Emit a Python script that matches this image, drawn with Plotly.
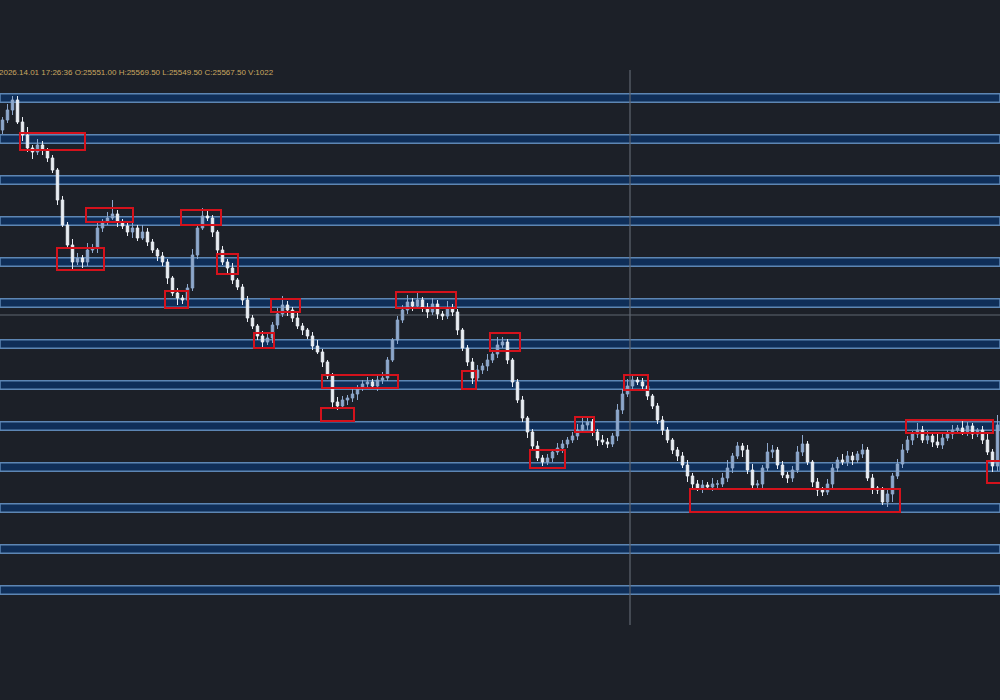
import plotly.graph_objects as go

# ---------------- data ----------------
header_text = "2026.14.01 17:26:36 O:25551.00 H:25569.50 L:25549.50 C:25567.50 V:1022"

first_open = 25870
closes = [
    25880, 25890, 25900, 25878, 25865, 25852, 25848, 25855, 25850, 25842,
    25830, 25800, 25775, 25755, 25738, 25742, 25738, 25750, 25752, 25772,
    25778, 25782, 25786, 25778, 25774, 25768, 25772, 25762, 25768, 25758,
    25750, 25744, 25738, 25722, 25707, 25702, 25700, 25712, 25745, 25772,
    25784, 25782, 25768, 25750, 25738, 25732, 25720, 25713, 25700, 25682,
    25674, 25664, 25658, 25662, 25675, 25686, 25695, 25690, 25682, 25674,
    25670, 25664, 25654, 25648, 25638, 25624, 25598, 25594, 25600, 25602,
    25606, 25612, 25616, 25618, 25614, 25620, 25622, 25640, 25660, 25680,
    25690, 25698, 25694, 25700, 25692, 25688, 25696, 25686, 25684, 25692,
    25688, 25670, 25652, 25638, 25622, 25630, 25634, 25640, 25646, 25655,
    25658, 25640, 25618, 25600, 25582, 25568, 25554, 25542, 25538, 25542,
    25548, 25552, 25556, 25560, 25564, 25570, 25575, 25578, 25568, 25560,
    25558, 25556, 25564, 25590, 25606, 25614, 25620, 25618, 25614, 25604,
    25594, 25580, 25570, 25560, 25550, 25544, 25535, 25524, 25516, 25512,
    25515, 25513, 25516, 25516, 25522, 25532, 25544, 25554, 25550, 25530,
    25515, 25516, 25532, 25548, 25550, 25535, 25525, 25522, 25530, 25548,
    25556, 25538, 25518, 25510, 25508, 25516, 25532, 25540, 25538, 25544,
    25540, 25546, 25550, 25522, 25512, 25510, 25498, 25506, 25524, 25536,
    25550, 25560, 25566, 25570, 25560, 25564, 25558, 25555, 25562, 25566,
    25570, 25572, 25568, 25574, 25566, 25570, 25560, 25548, 25534, 25575,
]
wick_up = [
    3, 6, 4, 4, 5, 8, 3, 6, 4, 2,
    3, 2, 4, 3, 6, 5, 3, 7, 4, 5,
    3, 6, 14, 4, 3, 5, 6, 3, 7, 4,
    3, 2, 4, 3, 2, 5, 3, 4, 6, 3,
    8, 5, 3, 2, 4, 3, 5, 2, 3, 4,
    3, 2, 5, 4, 3, 6, 9, 4, 3, 5,
    3, 2, 4, 6, 3, 2, 3, 5, 4, 3,
    6, 3, 4, 5, 3, 4, 6, 3, 2, 4,
    5, 7, 4, 8, 3, 5, 6, 4, 3, 7,
    4, 3, 2, 3, 4, 5, 3, 6, 4, 8,
    5, 3, 2, 3, 4, 2, 3, 5, 3, 4,
    3, 5, 4, 3, 4, 6, 8, 4, 3, 3,
    5, 4, 3, 6, 5, 7, 4, 3, 4, 3,
    2, 3, 4, 3, 2, 3, 4, 5, 3, 4,
    5, 3, 6, 4, 5, 8, 3, 4, 3, 5,
    6, 4, 3, 9, 5, 3, 4, 3, 4, 6,
    9, 3, 2, 4, 3, 5, 4, 3, 6, 5,
    4, 3, 6, 3, 4, 2, 3, 4, 3, 5,
    6, 4, 3, 7, 4, 5, 3, 8, 6, 4,
    5, 3, 7, 4, 3, 2, 4, 6, 3, 10,
]
wick_dn = [
    4, 3, 5, 2, 6, 4, 7, 3, 5, 4,
    3, 5, 2, 4, 8, 3, 6, 4, 3, 5,
    4, 3, 2, 5, 3, 4, 6, 3, 2, 4,
    3, 5, 4, 6, 3, 7, 4, 5, 3, 4,
    2, 3, 5, 4, 3, 6, 4, 3, 5, 4,
    3, 4, 6, 3, 5, 4, 3, 6, 4, 3,
    5, 3, 4, 2, 5, 3, 6, 4, 3, 5,
    4, 6, 3, 4, 3, 5, 4, 3, 2, 4,
    3, 4, 5, 3, 4, 6, 3, 5, 4, 3,
    4, 5, 3, 4, 6, 3, 4, 5, 3, 4,
    3, 4, 5, 3, 4, 6, 5, 3, 4, 3,
    4, 3, 5, 4, 3, 4, 3, 5, 4, 6,
    3, 4, 3, 5, 4, 3, 4, 3, 5, 4,
    3, 4, 5, 3, 4, 5, 3, 6, 4, 3,
    5, 3, 4, 6, 3, 4, 5, 3, 7, 4,
    3, 5, 4, 3, 6, 4, 3, 5, 4, 3,
    4, 3, 5, 6, 4, 3, 5, 4, 3, 4,
    5, 3, 4, 3, 6, 4, 3, 5, 8, 3,
    4, 3, 5, 4, 3, 4, 5, 3, 4, 3,
    5, 4, 3, 4, 5, 3, 4, 3, 6, 5,
]

# horizontal level bands (price)
levels = [25902, 25861, 25820, 25779, 25738, 25697, 25656,
          25615, 25574, 25533, 25492, 25451, 25410]
band_half = 4.25
crosshair_price = 25685
crosshair_bar = 125.5
crosshair_top = 25930
crosshair_bottom = 25375

# red zones: (bar_start, bar_end, price_low, price_high)
zones_x0 = [3.5, 10.9, 16.7, 32.5, 35.7, 42.9, 50.3, 53.7, 63.9, 63.7,
            78.7, 91.9, 97.5, 105.5, 114.5, 124.3, 137.5, 180.7, 196.9]
zones_x1 = [16.5, 20.3, 26.1, 37.1, 43.7, 47.1, 54.3, 59.5, 79.1, 70.3,
            90.7, 94.7, 103.5, 112.5, 118.3, 129.1, 179.5, 198.1, 200.5]
zones_y0 = [25850, 25730, 25778, 25692, 25775, 25726, 25652, 25688, 25612, 25579,
            25692, 25611, 25649, 25532, 25568, 25610, 25488, 25567, 25517]
zones_y1 = [25867, 25752, 25792, 25709, 25790, 25746, 25667, 25701, 25625, 25592,
            25708, 25629, 25667, 25550, 25583, 25625, 25511, 25580, 25539]

# ---------------- build ----------------
n = len(closes)
bars = list(range(n))
opens = [first_open] + closes[:-1]
highs = [max(o, c) + w for o, c, w in zip(opens, closes, wick_up)]
lows = [min(o, c) - w for o, c, w in zip(opens, closes, wick_dn)]

BG = "#1c2028"
fig = go.Figure()
fig.add_trace(go.Candlestick(
    x=bars, open=opens, high=highs, low=lows, close=closes,
    increasing=dict(line=dict(color="#8ea8cc", width=1), fillcolor="#8ea8cc"),
    decreasing=dict(line=dict(color="#e9edf3", width=1), fillcolor="#e9edf3"),
    whiskerwidth=0, showlegend=False, hoverinfo="skip",
))

for L in levels:
    fig.add_shape(type="rect", xref="paper", x0=0, x1=1, yref="y",
                  y0=L - band_half, y1=L + band_half,
                  fillcolor="#0f2e58", line=dict(color="#5d86b4", width=1.5),
                  layer="below")

fig.add_shape(type="line", xref="paper", x0=0, x1=1, yref="y",
              y0=crosshair_price, y1=crosshair_price,
              line=dict(color="#5f6670", width=1.2), layer="below")
fig.add_shape(type="line", xref="x", x0=crosshair_bar, x1=crosshair_bar, yref="y",
              y0=crosshair_bottom, y1=crosshair_top,
              line=dict(color="#5f6670", width=1.2), layer="below")

for x0, x1, y0, y1 in zip(zones_x0, zones_x1, zones_y0, zones_y1):
    fig.add_shape(type="rect", xref="x", yref="y", x0=x0, x1=x1, y0=y0, y1=y1,
                  line=dict(color="#d4121c", width=2), fillcolor="rgba(0,0,0,0)",
                  layer="above")

fig.add_annotation(text=header_text, xref="paper", yref="paper", x=-0.003, y=1 - 72 / 700,
                   xanchor="left", yanchor="middle", showarrow=False,
                   font=dict(family="Liberation Sans, Arial", size=8, color="#c9a760"))

fig.update_layout(
    width=1000, height=700,
    margin=dict(l=0, r=0, t=0, b=0),
    paper_bgcolor=BG, plot_bgcolor=BG,
    xaxis=dict(range=[-0.5, n - 0.5], visible=False, rangeslider=dict(visible=False),
               fixedrange=True),
    yaxis=dict(range=[25300, 26000], visible=False, fixedrange=True),
    showlegend=False,
)

fig.write_html(
    "out.html",
    config={"displayModeBar": False},
    post_script="document.body.style.margin='0';document.body.style.padding='0';"
                "document.body.style.background='" + BG + "';document.body.style.overflow='hidden';",
)
